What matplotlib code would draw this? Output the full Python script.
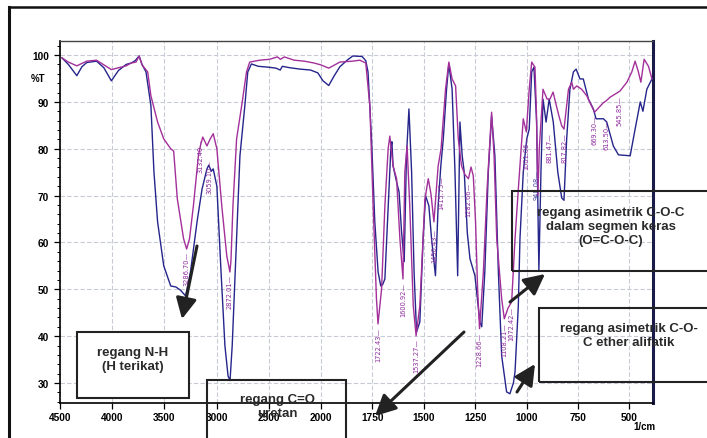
import numpy as np
import matplotlib
matplotlib.use("Agg")
import matplotlib.pyplot as plt
from matplotlib.patches import Rectangle, FancyArrowPatch, ArrowStyle

plt.rcParams['font.family'] = ['Liberation Sans', 'DejaVu Sans']

# ---------------- data (wavenumber 1/cm, %T) ----------------
purple_wn = [4481, 4420, 4339, 4244, 4150, 4008, 3866, 3818, 3771, 3742, 3714, 3660, 3629, 3565,
             3506, 3439, 3411, 3376, 3316, 3286.7, 3259, 3222, 3174, 3155, 3132.4, 3092, 3061, 3032,
             2997, 2950, 2902, 2872.01, 2862, 2843, 2808, 2760, 2713, 2682, 2587, 2492, 2417, 2388,
             2350, 2256, 2161, 2066, 2000, 1962, 1908, 1845, 1811, 1782, 1762, 1746, 1730, 1722.43,
             1705, 1689, 1673, 1665, 1649, 1632, 1616, 1600.92, 1592, 1581, 1568, 1551, 1537.27, 1519,
             1494, 1478, 1465, 1450.43, 1430, 1415.75, 1394, 1378, 1362, 1345, 1332, 1316, 1300,
             1282.66, 1270, 1259, 1248, 1238, 1228.66, 1210, 1192, 1170, 1158, 1145, 1121, 1108.21,
             1090, 1072.42, 1056, 1040, 1016, 1001.06, 987, 975, 959, 952, 945, 938, 920, 900, 886,
             871, 845, 829, 817.82, 796, 780, 772, 756, 732, 707, 683, 669.3, 642, 627, 613.5, 594,
             545.85, 512, 488, 472, 456, 444, 428, 407, 390]
purple_T = [99.4, 98.5, 97.7, 98.7, 98.9, 96.9, 97.7, 98.3, 98.5, 99.8, 97.9, 96.4, 91.3, 85.7,
            82.1, 80.0, 79.5, 69.3, 60.8, 58.6, 60.8, 67.8, 78.5, 80.6, 82.5, 80.6, 82.1, 83.2,
            80.0, 67.8, 57.1, 53.7, 56.1, 67.8, 82.1, 89.1, 96.4, 98.5, 98.9, 99.1, 99.6, 99.1,
            99.6, 98.9, 98.7, 98.3, 97.9, 97.2, 98.5, 98.7, 98.9, 98.3, 89.1, 67.8, 48.0, 42.6,
            50.1, 67.8, 80.0, 82.7, 76.3, 73.6, 60.8, 52.2, 75.0, 80.6, 67.8, 46.5, 40.1, 46.5,
            69.3, 73.6, 70.4, 64.4, 76.3, 80.0, 92.7, 98.5, 94.9, 93.4, 82.1, 76.3, 74.5,
            73.6, 76.1, 74.2, 64.4, 50.0, 41.6, 53.7, 71.4, 87.8, 78.5, 60.8, 48.0, 43.7,
            46.0, 47.3, 60.8, 71.4, 86.4, 83.6, 92.7, 98.5, 97.4, 88.0, 70.0, 80.0, 92.7, 90.6, 90.6,
            92.1, 87.4, 84.9, 84.2, 92.7, 94.2, 92.7, 93.4, 92.7, 91.3, 89.1, 87.8, 89.1, 89.8, 90.2, 91.0,
            92.3, 94.2, 96.4, 98.7, 96.4, 94.2, 99.1, 97.6, 94.9]

blue_wn = [4481, 4420, 4339, 4290, 4244, 4150, 4080, 4008, 3940, 3866, 3818, 3780, 3742, 3714, 3676,
           3629, 3600, 3565, 3506, 3439, 3390, 3345, 3297, 3250, 3187, 3139, 3092, 3075, 3050, 3032,
           2997, 2960, 2920, 2890, 2871, 2850, 2808, 2776, 2729, 2701, 2666, 2600, 2500, 2430, 2390,
           2370, 2300, 2200, 2100, 2030, 1990, 1962, 1935, 1908, 1870, 1845, 1800, 1782, 1771, 1754,
           1738, 1722, 1709, 1700, 1689, 1673, 1660, 1655, 1649, 1632, 1620, 1608, 1595, 1584, 1572,
           1559, 1547, 1535, 1519, 1503, 1491, 1475, 1462, 1443, 1430, 1417, 1405, 1389, 1378, 1362,
           1348, 1335, 1324, 1313, 1303, 1288, 1275, 1251, 1227, 1218, 1203, 1186, 1170, 1154, 1137,
           1121, 1097, 1081, 1064, 1056, 1040, 1032, 1016, 999, 987, 975, 964, 951, 940, 930, 920,
           905, 890, 870, 848, 829, 818, 805, 789, 772, 759, 740, 724, 699, 675, 662, 626, 610, 578,
           553, 496, 472, 447, 434, 415, 390]
blue_T = [99.4, 98.0, 95.6, 97.5, 98.4, 98.7, 97.3, 94.5, 96.7, 98.0, 98.3, 98.8, 99.8, 98.0, 96.4,
          89.2, 75.1, 64.4, 55.0, 50.7, 50.5, 49.8, 48.6, 53.7, 64.4, 71.4, 75.7, 76.5, 75.2, 75.7,
          72.0, 55.0, 38.0, 31.5, 30.5, 38.0, 60.8, 78.5, 89.2, 96.4, 98.1, 97.6, 97.4, 97.2, 96.8,
          97.6, 97.3, 97.0, 96.8, 96.2, 94.5, 93.5, 95.6, 97.5, 99.0, 99.8, 99.7, 98.8, 96.4, 82.1,
          64.4, 53.7, 50.7, 51.0, 52.2, 67.8, 80.0, 81.5, 76.3, 72.9, 70.8, 62.3, 55.9, 78.5, 88.5,
          75.0, 53.7, 40.9, 43.0, 60.8, 70.0, 67.8, 60.8, 52.9, 67.8, 76.3, 82.1, 92.7, 98.1, 92.7,
          75.0, 52.9, 85.7, 78.5, 75.0, 62.0, 56.5, 52.9, 43.0, 42.0, 53.7, 75.0, 87.0, 78.5, 53.7,
          35.8, 28.1, 27.7, 30.0, 32.4, 46.5, 60.8, 75.0, 82.1, 84.2, 96.4, 97.4, 85.7, 54.0, 75.0, 90.6,
          85.7, 90.6, 85.7, 75.0, 69.5, 69.0, 82.0, 92.7, 96.4, 97.0, 94.9, 94.9, 90.6, 88.5, 86.4, 86.4, 85.7, 80.6,
          78.7, 78.5, 84.2, 90.0, 88.0, 92.7, 94.9]

peak_labels = ["3286.70", "3132.40", "3059.10", "2872.01", "1722.43", "1600.92", "1537.27",
               "1450.43", "1415.75", "1282.66", "1228.66", "1108.21", "1072.42", "1001.06",
               "948.08", "881.47", "817.82", "669.30", "613.50", "545.85"]
peak_wn = [3286.7, 3150, 3070, 2872.01, 1722.43, 1600.92, 1537.27, 1450.43, 1415.75, 1282.66,
           1228.66, 1108.21, 1072.42, 1001.06, 950, 886, 817.82, 669.3, 613.5, 545.85]
peak_T = [58.2, 82.3, 77.8, 53.2, 42.0, 51.5, 39.6, 63.0, 74.5, 73.0, 41.0, 43.0, 46.5, 83.0,
          75.7, 83.6, 83.5, 87.4, 86.4, 91.5]
peak_is_blue = [False, False, False, False, False, False, False, False, False, False, False,
                False, False, False, True, False, False, False, False, False]

x_major = [4500, 4000, 3500, 3000, 2500, 2000, 1750, 1500, 1250, 1000, 750, 500]
x_minor = [w for w in range(4400, 2000, 100) if w % 500] + [w for w in range(1950, 400, 50) if w % 250]
y_major = [30, 40, 50, 60, 70, 80, 90, 100]
y_minor = [v for v in range(26, 103, 2) if v % 10]

PURPLE = '#a3309a'
BLUE = '#25258c'

# ---------------- figure ----------------
W, H = 707, 439
fig = plt.figure(figsize=(W / 100, H / 100), dpi=100)
ax = fig.add_axes([60 / W, 1 - 404 / H, 593 / W, 362 / H])

K = 1.97
def fwd(w):
    w = np.asarray(w, dtype=float)
    return np.where(w < 2000, 2000 - (2000 - w) * K, w)
def inv(u):
    u = np.asarray(u, dtype=float)
    return np.where(u < 2000, 2000 - (2000 - u) / K, u)

ax.set_xscale('function', functions=(fwd, inv))
ax.set_xlim(4500, 385)
ax.set_ylim(25.73, 103)

ax.plot(blue_wn, blue_T, color=BLUE, lw=1.0, zorder=3)
ax.plot(purple_wn, purple_T, color=PURPLE, lw=1.0, zorder=4)

for lab, w, t, isb in zip(peak_labels, peak_wn, peak_T, peak_is_blue):
    ax.text(w, t, lab + '\u2014', rotation=90, ha='center', va='top', fontsize=4.8,
            color=('#4040a8' if isb else '#8e2b9e'), family=['DejaVu Sans'], zorder=5)

ax.set_xticks(x_major)
ax.set_xticklabels([str(v) for v in x_major])
ax.set_xticks(x_minor, minor=True)
ax.set_yticks(y_major)
ax.set_yticklabels([str(v) for v in y_major])
ax.set_yticks(y_minor, minor=True)
ax.tick_params(which='major', direction='out', length=4, width=0.9, labelsize=7.3, pad=2.5)
ax.tick_params(axis='y', which='major', pad=4)
ax.tick_params(which='minor', direction='out', length=2.3, width=0.7)
for lbl in ax.get_xticklabels() + ax.get_yticklabels():
    lbl.set_fontweight('bold')
ax.grid(True, which='major', color='#c8cbd6', lw=0.8, ls=(0, (4, 2)), zorder=0)

ax.spines['left'].set_linewidth(1.2)
ax.spines['bottom'].set_linewidth(1.2)
ax.spines['top'].set_linewidth(1.0)
ax.spines['top'].set_color('#444444')
ax.spines['right'].set_linewidth(2.2)
ax.spines['right'].set_color('#1b1b4a')

def F(x, y):
    return (x / W, 1 - y / H)

fig.text(*F(38, 79), '%T', ha='center', va='center', fontsize=7, weight='bold')
fig.text(*F(644, 427), '1/cm', ha='center', va='center', fontsize=7, weight='bold')

# frame of the picture (left and top)
fig.add_artist(plt.Line2D([9 / W, 9 / W], [0, 1 - 8 / H], transform=fig.transFigure, color='#111', lw=2.2))
fig.add_artist(plt.Line2D([9 / W, 1], [1 - 8 / H, 1 - 8 / H], transform=fig.transFigure, color='#111', lw=1.8))

def box(x0, y0, x1, y1, fill):
    r = Rectangle(F(x0, y1), (x1 - x0) / W, (y1 - y0) / H, transform=fig.transFigure,
                  facecolor='white' if fill else 'none', edgecolor='#222222', lw=1.5, zorder=6)
    fig.add_artist(r)

TXT = dict(ha='center', va='center', fontsize=9.5, weight='bold', color='#2a2a2a', zorder=7)

box(77, 333, 189, 399, True)
fig.text(*F(133, 360), 'regang N-H\n(H terikat)', **TXT)

box(207, 381, 346, 445, False)
fig.text(*F(277, 407), 'regang C=O\nuretan', **TXT)

box(512, 192, 712, 272, False)
fig.text(*F(611, 227), 'regang asimetrik C-O-C\ndalam segmen keras\n(O=C-O-C)', **TXT)

box(539, 309, 712, 383, False)
fig.text(*F(629, 336), 'regang asimetrik C-O-\nC ether alifatik', **TXT)

def arrow(xa, ya, xb, yb):
    a = FancyArrowPatch(F(xa, ya), F(xb, yb), transform=fig.transFigure,
                        arrowstyle=ArrowStyle('-|>', head_length=0.9, head_width=0.45),
                        mutation_scale=14, lw=2.2, color='#222222', shrinkA=0, shrinkB=0, zorder=8)
    fig.add_artist(a)

arrow(197, 247, 182, 320)
arrow(464, 333, 375, 417)
arrow(510, 303, 545, 275)
arrow(517, 393, 535, 365)

fig.savefig('out.png', dpi=100)
